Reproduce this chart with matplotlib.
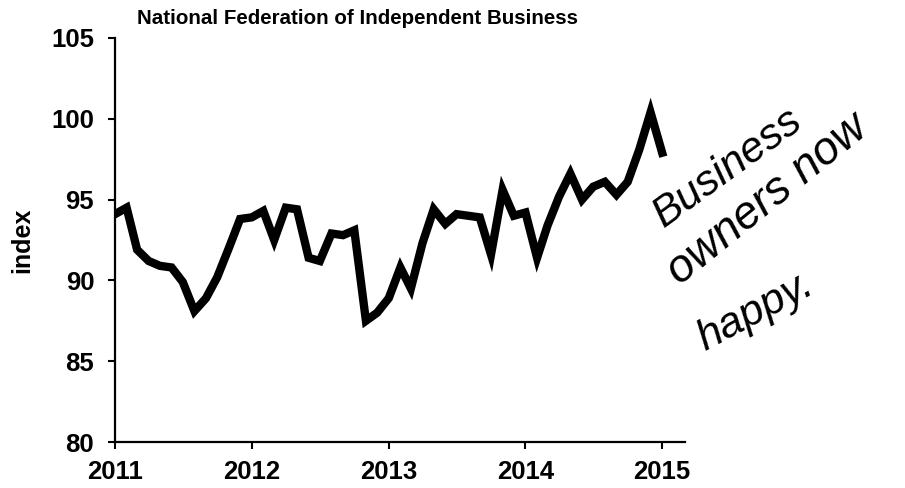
import matplotlib
matplotlib.use('Agg')
import matplotlib.pyplot as plt
import matplotlib.dates as mdates
import pandas as pd

# --- DATOS ---
start_month = "2011-01-01"
index_2011 = [94.1, 94.5, 91.9, 91.2, 90.9, 90.8, 89.9, 88.1, 88.9, 90.2, 92.0, 93.8]
index_2012 = [93.9, 94.3, 92.5, 94.5, 94.4, 91.4, 91.2, 92.9, 92.8, 93.1, 87.5, 88.0]
index_2013 = [88.9, 90.8, 89.5, 92.3, 94.4, 93.5, 94.1, 94.0, 93.9, 91.6, 95.6, 94.0]
index_2014 = [94.2, 91.4, 93.4, 95.2, 96.6, 95.0, 95.8, 96.1, 95.3, 96.1, 98.1, 100.4]
index_2015 = [97.9]
y_ticks = [80, 85, 90, 95, 100, 105]
x_years = [2011, 2012, 2013, 2014, 2015]

title = "National Federation of Independent Business"
note_lines = ["Business", "owners now", "happy."]

values = index_2011 + index_2012 + index_2013 + index_2014 + index_2015
fechas = pd.date_range(start_month, periods=len(values), freq="MS")

plt.rcParams['font.family'] = ['Liberation Sans', 'DejaVu Sans']

fig = plt.figure(figsize=(9.05, 4.88), dpi=100)
ax = fig.add_axes([115 / 905, 46 / 488, 570 / 905, 404 / 488])

ax.plot(fechas, values, color='black', linewidth=6, solid_joinstyle='miter')

ax.set_xlim(pd.Timestamp("2011-01-01"), pd.Timestamp("2015-03-03"))
ax.set_ylim(80, 105)
ax.set_yticks(y_ticks)
ax.set_xticks([pd.Timestamp(f"{y}-01-01") for y in x_years])
ax.xaxis.set_major_formatter(mdates.DateFormatter('%Y'))

for s in ['top', 'right']:
    ax.spines[s].set_visible(False)
for s in ['left', 'bottom']:
    ax.spines[s].set_linewidth(1.6)

ax.tick_params(axis='both', direction='out', length=5, width=1.5,
               labelsize=18.5, pad=10)
ax.tick_params(axis='x', pad=8)
for lab in ax.get_xticklabels() + ax.get_yticklabels():
    lab.set_fontweight('bold')

ax.set_ylabel("index", fontsize=18, fontweight='bold', labelpad=12)

fig.text(137 / 905, 1 - 19 / 488, title, fontsize=14.8, fontweight='bold',
         ha='left', va='center')

# notas "a mano"
fig.text(728 / 905, 1 - 168 / 488, note_lines[0], fontsize=31, style='italic',
         rotation=36, ha='center', va='center', fontweight='light')
fig.text(768 / 905, 1 - 200 / 488, note_lines[1], fontsize=33, style='italic',
         rotation=39, ha='center', va='center', fontweight='light')
fig.text(755 / 905, 1 - 312 / 488, note_lines[2], fontsize=31, style='italic',
         rotation=28, ha='center', va='center', fontweight='light')

plt.savefig("out.png", dpi=100)
plt.close()
